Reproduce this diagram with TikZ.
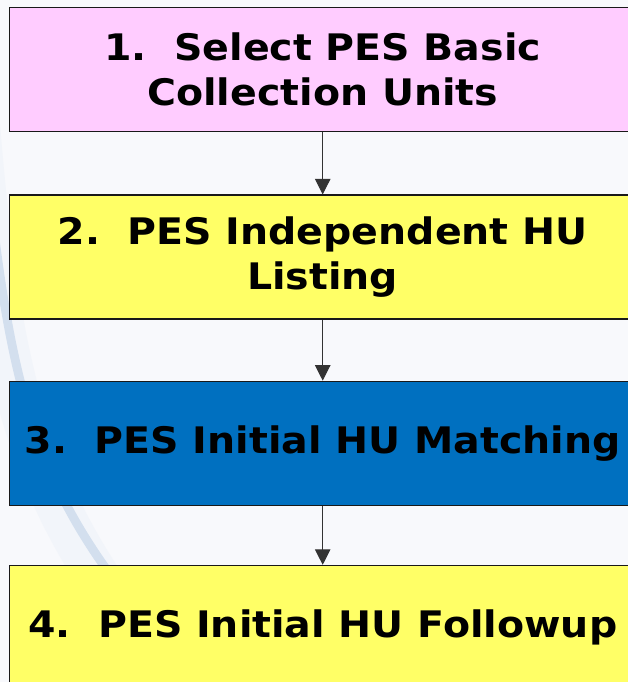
\documentclass[tikz,border=0pt]{standalone}
\usepackage{fontspec}
\newfontfamily\stepfont{DejaVu Sans}[FakeStretch=1.08]
\usetikzlibrary{arrows.meta,positioning}
\definecolor{steppink}{HTML}{FFCCFF}
\definecolor{stepyellow}{HTML}{FFFF66}
\definecolor{stepblue}{HTML}{0070C0}
\definecolor{bgwhite}{HTML}{F8F9FC}
\definecolor{swoosh}{HTML}{D3DFEE}
\tikzset{
  stepbox/.style={draw=black!90,line width=1pt,minimum width=15.65cm,minimum height=3.1cm,
    inner sep=0pt,align=center,font=\stepfont\bfseries\fontsize{26}{32}\selectfont},
  steparrow/.style={-{Triangle[length=11pt,width=11pt]},line width=0.7pt,draw=black!80,fill=black}
}

\begin{document}
\begin{tikzpicture}
  \useasboundingbox[clip] (0,0) rectangle (15.7,-17.05);
  \fill[bgwhite] (0,0) rectangle (15.7,-17.05);

  % background swoosh
  \draw[line width=1.1cm,swoosh!30,line cap=round] (-0.6,-2.5) .. controls (-0.1,-9) and (0.6,-12) .. (3.2,-15.5);
  \draw[line width=0.22cm,swoosh] (-0.4,-3.5) .. controls (0.2,-9.5) and (0.8,-12) .. (3.4,-15.2);

  % steps
  \node[stepbox,fill=steppink,anchor=north west] (b1) at (0.225,-0.175) {1.\ \ Select PES Basic\\Collection Units};
  \node[stepbox,fill=stepyellow,below=1.55cm of b1] (b2) {2.\ \ PES Independent HU\\Listing};
  \node[stepbox,fill=stepblue,below=1.52cm of b2] (b3) {3.\ \ PES Initial HU Matching};
  \node[stepbox,fill=stepyellow,below=1.47cm of b3] (b4) {4.\ \ PES Initial HU Followup};

  % arrows
  \draw[steparrow] (b1) -- (b2);
  \draw[steparrow] (b2) -- (b3);
  \draw[steparrow] (b3) -- (b4);
\end{tikzpicture}
\end{document}
